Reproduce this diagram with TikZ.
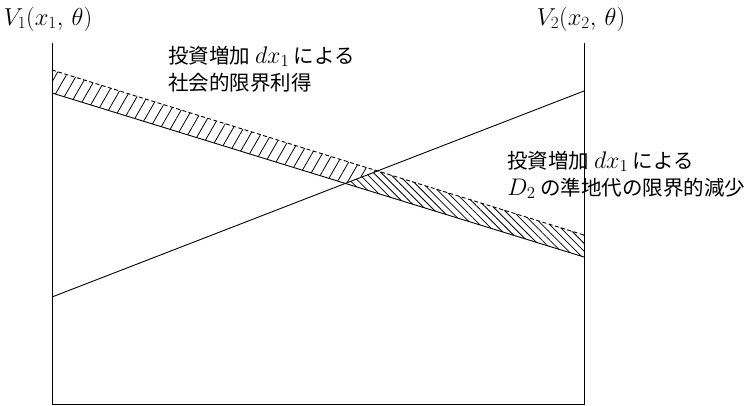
\RequirePackage{fix-cm}
\documentclass[tikz,border=0pt]{standalone}
\usepackage{fontspec}
\newfontfamily\jp{Noto Sans CJK JP}
\usetikzlibrary{patterns.meta}
\newcommand\bigmath[1]{{\fontsize{24}{27}\selectfont$#1$}}
\begin{document}
\begin{tikzpicture}[x=1pt,y=-1pt, line width=0.9pt,
  dashedcurve/.style={dash pattern=on 4pt off 2.5pt},
  axislabel/.style={font=\fontsize{24.5}{28}\selectfont, inner sep=0pt},
  note/.style={font=\fontsize{20.5}{27}\selectfont\jp, align=left, anchor=west, inner sep=0pt}]
\useasboundingbox (0,0) rectangle (753,406);
\coordinate (TL) at (52,43);
\coordinate (BL) at (52,404);
\coordinate (BR) at (584,404);
\coordinate (TR) at (584,43);
\coordinate (DL) at (52,70);
\coordinate (DR) at (584,235);
\coordinate (SL) at (52,93);
\coordinate (SR) at (584,257);
\coordinate (AL) at (52,297);
\coordinate (AR) at (584,91);
\coordinate (XD) at (intersection of DL--DR and AL--AR);
\coordinate (XS) at (intersection of SL--SR and AL--AR);
\fill[pattern={Lines[angle=60,distance=9pt,line width=0.8pt]}] (DL) -- (XD) -- (XS) -- (SL) -- cycle;
\fill[pattern={Lines[angle=-45,distance=5.5pt,line width=0.8pt]}] (XD) -- (DR) -- (SR) -- (XS) -- cycle;
\draw (TL) -- (BL) -- (BR) -- (TR);
\draw[dashedcurve] (DL) -- (DR);
\draw (SL) -- (SR);
\draw (AL) -- (AR);
\node[axislabel] (v1) at (48,19) {$V_1(x_1,\,\theta)$};
\node[axislabel] (v2) at (581,19) {$V_2(x_2,\,\theta)$};
\node[note] (n1) at (168,69) {投資増加 \bigmath{dx_1} による\\社会的限界利得};
\node[note] (n2) at (507,175) {投資増加 \bigmath{dx_1} による\\\bigmath{D_2} の準地代の限界的減少};
\end{tikzpicture}
\end{document}
